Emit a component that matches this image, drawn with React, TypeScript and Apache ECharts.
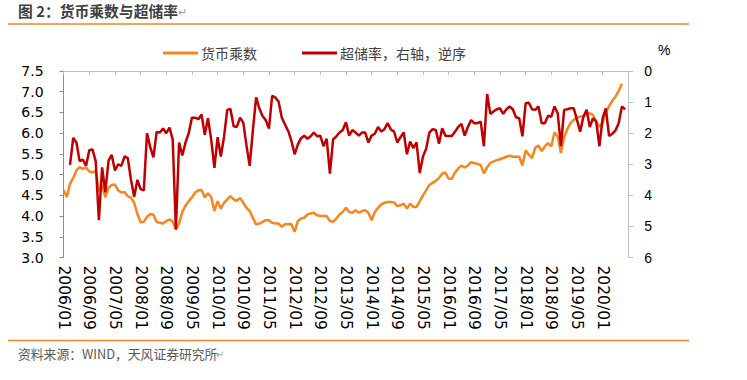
import React, { useEffect, useRef } from "react";
import * as echarts from "echarts";

// Monthly categories 2006/01 .. 2020/09
const months: string[] = [];
for (let y = 2006; y <= 2020; y++) {
  for (let m = 1; m <= 12; m++) {
    if (y === 2020 && m > 9) break;
    months.push(`${y}/${m < 10 ? "0" + m : m}`);
  }
}

const seriesNames = ["货币乘数", "超储率，右轴，逆序"];

// 货币乘数 (left axis)
const moneyMultiplier: (number | null)[] = [
  4.63, 4.46, 4.78, 4.92, 5.10, 5.18, 5.14, 5.17, 5.08, 5.05,
  5.09, 4.60, 4.75, 4.45, 4.68, 4.75, 4.76, 4.62, 4.57, 4.58,
  4.48, 4.44, 4.32, 4.05, 3.85, 3.86, 3.98, 4.05, 4.03, 3.86,
  3.84, 3.82, 3.88, 3.92, 3.87, 3.68, 3.82, 4.10, 4.25, 4.36,
  4.45, 4.57, 4.62, 4.63, 4.45, 4.55, 4.46, 4.12, 4.36, 4.18,
  4.32, 4.40, 4.48, 4.40, 4.37, 4.44, 4.32, 4.20, 4.12, 3.95,
  3.80, 3.82, 3.86, 3.90, 3.90, 3.84, 3.82, 3.82, 3.74, 3.80,
  3.81, 3.80, 3.62, 3.88, 3.94, 3.96, 4.04, 4.06, 4.08, 4.02,
  4.00, 4.00, 4.00, 3.88, 3.86, 3.94, 4.04, 4.10, 4.20, 4.10,
  4.08, 4.14, 4.08, 4.12, 4.14, 4.08, 3.90, 4.10, 4.20, 4.28,
  4.32, 4.34, 4.34, 4.33, 4.24, 4.26, 4.30, 4.18, 4.30, 4.22,
  4.22, 4.36, 4.50, 4.62, 4.75, 4.80, 4.85, 4.92, 5.02, 5.05,
  4.90, 4.90, 5.05, 5.15, 5.22, 5.17, 5.22, 5.30, 5.28, 5.26,
  5.23, 5.03, 5.18, 5.28, 5.32, 5.35, 5.37, 5.40, 5.43, 5.46,
  5.43, 5.43, 5.43, 5.22, 5.58, 5.48, 5.40, 5.65, 5.70, 5.57,
  5.68, 5.76, 5.68, 6.02, 5.92, 5.52, 5.90, 6.10, 6.25, 6.32,
  6.38, 6.40, 6.40, 6.47, 6.48, 6.44, 6.28, 6.15, 6.25, 6.50,
  6.65, 6.78, 6.88, 7.02, 7.19, null, null,
];

// 超储率 (%), right axis, inverted
const excessReserve: (number | null)[] = [
  null, null, 3.02, 2.15, 2.30, 2.90, 2.85, 3.05, 2.55, 2.52,
  2.90, 4.80, 3.10, 3.90, 2.88, 2.70, 3.20, 3.00, 3.05, 2.75,
  2.80, 3.50, 4.05, 3.50, 3.80, 3.84, 2.00, 2.45, 2.78, 1.96,
  1.98, 1.85, 2.00, 1.82, 2.20, 5.10, 2.30, 2.72, 2.30, 2.00,
  1.50, 1.50, 1.55, 1.40, 2.05, 1.52, 2.20, 3.12, 2.13, 2.75,
  2.12, 1.25, 1.22, 1.78, 1.80, 1.50, 1.66, 2.40, 3.05, 1.90,
  0.85, 1.20, 1.45, 1.58, 1.85, 0.80, 0.85, 0.98, 1.50, 1.72,
  1.93, 2.25, 2.68, 2.37, 2.16, 2.08, 2.18, 2.10, 1.98, 2.10,
  2.08, 2.42, 2.18, 3.30, 2.20, 2.10, 1.98, 1.90, 1.65, 2.08,
  1.90, 1.98, 2.08, 1.98, 1.98, 2.30, 2.08, 2.02, 1.80, 1.95,
  1.87, 1.68, 1.88, 1.95, 2.30, 2.13, 1.98, 2.68, 2.27, 2.48,
  2.30, 3.28, 2.75, 2.50, 1.98, 1.87, 1.90, 2.34, 1.84, 2.08,
  2.09, 2.09, 1.95, 1.80, 1.70, 2.08, 1.80, 1.58, 1.68, 1.68,
  1.63, 2.42, 0.74, 1.38, 1.30, 1.23, 1.20, 1.38, 1.23, 1.14,
  1.23, 1.49, 1.52, 2.10, 1.04, 1.02, 1.23, 1.25, 1.14, 1.68,
  1.68, 1.44, 1.47, 1.14, 1.36, 2.42, 1.25, 1.23, 1.20, 1.20,
  1.57, 1.95, 1.47, 1.25, 1.80, 1.52, 1.63, 2.42, 1.52, 1.20,
  2.09, 2.02, 1.91, 1.68, 1.14, 1.23, null,
];

const titleText = "图 2：货币乘数与超储率";
const sourceText = "资料来源：WIND，天风证券研究所";

const ORANGE = "#F7861E";
const RED = "#C00000";

export default function App() {
  const ref = useRef<HTMLDivElement>(null);
  useEffect(() => {
    if (!ref.current) return;
    const chart = echarts.init(ref.current, undefined, { renderer: "svg" });
    const cjk = "'Noto Sans CJK SC', sans-serif";
    chart.setOption({
      animation: false,
      backgroundColor: "#ffffff",
      legend: {
        left: 158,
        top: 41,
        itemWidth: 35,
        itemHeight: 3,
        itemGap: 45,
        icon: "rect",
        textStyle: { fontFamily: cjk, fontSize: 14, color: "#404040", padding: [0, 0, 0, -2] },
        data: seriesNames,
      },
      grid: {
        left: 63.6,
        right: 118.7,
        top: 71,
        bottom: 122.5,
        containLabel: false,
        outerBoundsMode: "none",
      },
      xAxis: {
        type: "category",
        data: months,
        boundaryGap: false,
        axisLine: { lineStyle: { color: "#bfbfbf", width: 1 } },
        axisTick: {
          show: true,
          length: 4,
          lineStyle: { color: "#bfbfbf" },
          interval: (i: number) => i % 8 === 0 && i < 176,
        },
        axisLabel: {
          rotate: -90,
          margin: 8,
          fontFamily: "'DejaVu Sans', sans-serif",
          fontSize: 15.5,
          color: "#000000",
          interval: (i: number) => i % 8 === 0 && i < 176,
        },
        splitLine: { show: false },
      },
      yAxis: [
        {
          type: "value",
          min: 3,
          max: 7.5,
          interval: 0.5,
          position: "left",
          axisLine: { show: true, lineStyle: { color: "#8c8c8c", width: 1 } },
          axisTick: { show: true, length: 4, lineStyle: { color: "#8c8c8c" } },
          axisLabel: {
            margin: 20,
            fontFamily: "'DejaVu Sans', sans-serif",
            fontSize: 14,
            color: "#000000",
            formatter: (v: number) => v.toFixed(1),
          },
          splitLine: { show: false },
        },
        {
          type: "value",
          min: 0,
          max: 6,
          interval: 1,
          inverse: true,
          position: "right",
          axisLine: { show: true, lineStyle: { color: "#bfbfbf", width: 1 } },
          axisTick: { show: true, length: 5, lineStyle: { color: "#bfbfbf" } },
          axisLabel: {
            margin: 16,
            fontFamily: "'Liberation Sans', sans-serif",
            fontSize: 14,
            color: "#000000",
          },
          splitLine: { show: false },
        },
      ],
      series: [
        {
          name: seriesNames[0],
          type: "line",
          yAxisIndex: 0,
          data: moneyMultiplier,
          symbol: "none",
          lineStyle: { color: ORANGE, width: 2.5 },
          itemStyle: { color: ORANGE },
          z: 2,
        },
        {
          name: seriesNames[1],
          type: "line",
          yAxisIndex: 1,
          data: excessReserve,
          symbol: "none",
          lineStyle: { color: RED, width: 2.5 },
          itemStyle: { color: RED },
          z: 3,
        },
      ],
      graphic: [
        {
          type: "text",
          left: 18,
          top: 3,
          style: {
            text: titleText,
            font: `bold 14.8px ${cjk}`,
            fill: "#404040",
          },
        },
        {
          type: "text",
          left: 178,
          top: 5,
          style: { text: "↵", font: `11px ${cjk}`, fill: "#a0a0a0" },
        },
        {
          type: "line",
          shape: { x1: 8, y1: 24, x2: 689, y2: 24 },
          style: { stroke: ORANGE, lineWidth: 1.5 },
        },
        {
          type: "text",
          left: 658,
          top: 43,
          style: { text: "%", font: "14px 'Liberation Sans', sans-serif", fill: "#000000" },
        },
        {
          type: "line",
          shape: { x1: 8, y1: 340.5, x2: 689, y2: 340.5 },
          style: { stroke: ORANGE, lineWidth: 1.5 },
        },
        {
          type: "text",
          left: 18,
          top: 347,
          style: {
            text: sourceText,
            font: `12.8px ${cjk}`,
            fill: "#595959",
          },
        },
        {
          type: "text",
          left: 216,
          top: 348,
          style: { text: "↵", font: `10px ${cjk}`, fill: "#a0a0a0" },
        },
      ],
    });
    return () => chart.dispose();
  }, []);
  return (
    <div
      ref={ref}
      style={{ position: "fixed", left: 0, top: 0, width: 747, height: 380, background: "#fff" }}
    />
  );
}
